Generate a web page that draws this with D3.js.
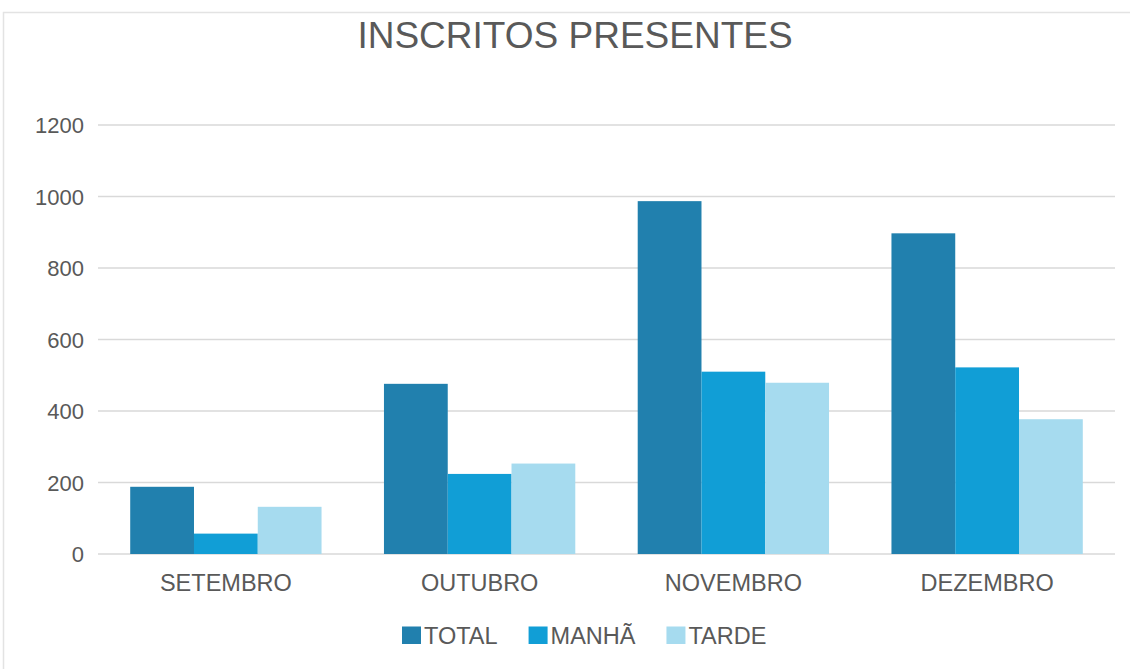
<!DOCTYPE html>
<html>
<head>
<meta charset="utf-8">
<script src="https://cdn.jsdelivr.net/npm/d3@7"></script>
<style>
  body { margin: 0; background: #fff; }
  svg { display: block; font-family: "Liberation Sans", Arial, sans-serif; }
</style>
</head>
<body>
<svg id="chart" width="1130" height="669"></svg>
<script>
const months = ["SETEMBRO", "OUTUBRO", "NOVEMBRO", "DEZEMBRO"];
const seriesNames = ["TOTAL", "MANHÃ", "TARDE"];
const totalValues = [188, 476, 987, 897];
const manhaValues = [57, 224, 510, 522];
const tardeValues = [132, 253, 479, 377];
const yTicks = [0, 200, 400, 600, 800, 1000, 1200];
const colors = ["#2180AE", "#119ED6", "#A6DBEF"];

const seriesValues = [totalValues, manhaValues, tardeValues];
const textColor = "#595959";

const svg = d3.select("#chart");

// chart frame
svg.append("rect")
  .attr("x", 3.5).attr("y", 12.5)
  .attr("width", 1140).attr("height", 680)
  .attr("fill", "#fff")
  .attr("stroke", "#e3e3e3")
  .attr("stroke-width", 1.5);

svg.append("text")
  .attr("x", 575)
  .attr("y", 48)
  .attr("text-anchor", "middle")
  .attr("font-size", 37)
  .attr("fill", textColor)
  .text("INSCRITOS PRESENTES");

const x = d3.scaleBand()
  .domain(months)
  .range([99, 1114])
  .paddingInner(0.246)
  .paddingOuter(0.123);

const xInner = d3.scaleBand()
  .domain(seriesNames)
  .range([0, x.bandwidth()]);

const y = d3.scaleLinear().domain([0, 1200]).range([554, 125]);

// gridlines
svg.append("g")
  .selectAll("line")
  .data(yTicks)
  .join("line")
  .attr("x1", 98).attr("x2", 1115)
  .attr("y1", d => y(d)).attr("y2", d => y(d))
  .attr("stroke", "#d9d9d9")
  .attr("stroke-width", 1.5);

// y tick labels
svg.append("g")
  .selectAll("text")
  .data(yTicks)
  .join("text")
  .attr("x", 84)
  .attr("y", d => y(d) + 8)
  .attr("text-anchor", "end")
  .attr("font-size", 22)
  .attr("fill", textColor)
  .text(d => d);

// bars
const groups = svg.append("g")
  .selectAll("g")
  .data(months)
  .join("g")
  .attr("transform", d => `translate(${x(d)},0)`);

groups.selectAll("rect")
  .data((m, i) => seriesNames.map((s, j) => ({ s, j, v: seriesValues[j][i] })))
  .join("rect")
  .attr("x", d => xInner(d.s))
  .attr("width", xInner.bandwidth())
  .attr("y", d => y(d.v))
  .attr("height", d => y(0) - y(d.v))
  .attr("fill", d => colors[d.j]);

// category labels
svg.append("g")
  .selectAll("text")
  .data(months)
  .join("text")
  .attr("x", d => x(d) + x.bandwidth() / 2)
  .attr("y", 591)
  .attr("text-anchor", "middle")
  .attr("font-size", 23.5)
  .attr("fill", textColor)
  .text(d => d);

// legend
const legend = svg.append("g");
let lx = 402;
seriesNames.forEach((name, i) => {
  legend.append("rect")
    .attr("x", lx).attr("y", 626.5)
    .attr("width", 19).attr("height", 17.5)
    .attr("fill", colors[i]);
  const t = legend.append("text")
    .attr("x", lx + 22)
    .attr("y", 643.5)
    .attr("font-size", 23.5)
    .attr("fill", textColor)
    .text(name);
  lx += 22 + t.node().getComputedTextLength() + 31;
});
</script>
</body>
</html>
